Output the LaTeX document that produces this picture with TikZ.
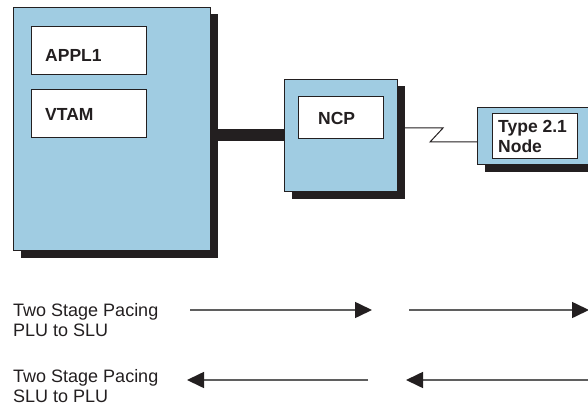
\documentclass[tikz,border=0pt]{standalone}
\usepackage{fontspec}
\setmainfont{Liberation Sans}
\usetikzlibrary{arrows.meta,shadows}
\definecolor{boxblue}{RGB}{160,204,226}
\definecolor{shade}{RGB}{35,31,32}
\definecolor{linegray}{RGB}{95,95,95}
\begin{document}
\begin{tikzpicture}[x=1pt,y=-1pt,
  outerbox/.style={draw=shade,line width=1pt,fill=boxblue,anchor=north west,inner sep=0pt,
    drop shadow={shadow xshift=7pt,shadow yshift=-7pt,opacity=1,fill=shade}},
  innerbox/.style={draw=shade,line width=1pt,fill=white,anchor=north west,inner sep=0pt},
  boxtext/.style={anchor=base west,inner sep=0pt,align=left,text=shade,
    font=\fontsize{17.5}{20}\selectfont\bfseries},
  lbl/.style={anchor=base west,inner sep=0pt,align=left,text=shade,
    font=\fontsize{18}{20}\selectfont},
  flow/.style={draw=linegray,line width=1.6pt,
    -{Triangle[length=17pt,width=16pt,color=shade]}},
  trunk/.style={draw=shade,line width=12pt},
  wire/.style={draw=shade,line width=1pt}
]
\useasboundingbox (0,0) rectangle (588,406);
\clip (0,0) rectangle (588,406);

% host
\node[outerbox,minimum width=197pt,minimum height=243pt] (host) at (13,7) {};
\node[innerbox,minimum width=115pt,minimum height=48pt] (appl) at (31,26) {};
\node[boxtext] (appltxt) at (45,62) {APPL1};
\node[innerbox,minimum width=115pt,minimum height=48pt] (vtam) at (31,89) {};
\node[boxtext] (vtamtxt) at (45,121) {VTAM};

% NCP
\node[outerbox,minimum width=113pt,minimum height=112pt] (ncp) at (284,79) {};
\node[innerbox,minimum width=85pt,minimum height=42pt] (ncpin) at (298,96) {};
\node[boxtext] (ncptxt) at (318,125) {NCP};

% Type 2.1 node
\node[outerbox,minimum width=130pt,minimum height=57pt] (t21) at (477,107) {};
\node[innerbox,minimum width=85pt,minimum height=45pt] (t21in) at (492,113) {};
\node[boxtext] (t21txt) at (498,153) {Type 2.1\\Node};

% connectors
\draw[trunk] (host.east |- ncp.west) -- (ncp.west);
\coordinate (z1) at (443,128);
\coordinate (z2) at (430,142);
\draw[wire] (ncp.east |- z1) -- (z1) -- (z2) -- (t21.west |- z2);

% pacing labels
\node[lbl] (pl1) at (13,336) {Two Stage Pacing\\PLU to SLU};
\node[lbl] (pl2) at (13,402) {Two Stage Pacing\\SLU to PLU};

% pacing arrows
\coordinate (a1s) at (190,310);
\coordinate (a1e) at (372,310);
\coordinate (a2s) at (409,310);
\coordinate (a2e) at (589,310);
\coordinate (b1s) at (368,380);
\coordinate (b1e) at (187,380);
\coordinate (b2s) at (600,380);
\coordinate (b2e) at (406,380);
\draw[flow] (a1s) -- (a1e);
\draw[flow] (a2s) -- (a2e);
\draw[flow] (b1s) -- (b1e);
\draw[flow] (b2s) -- (b2e);
\end{tikzpicture}
\end{document}
